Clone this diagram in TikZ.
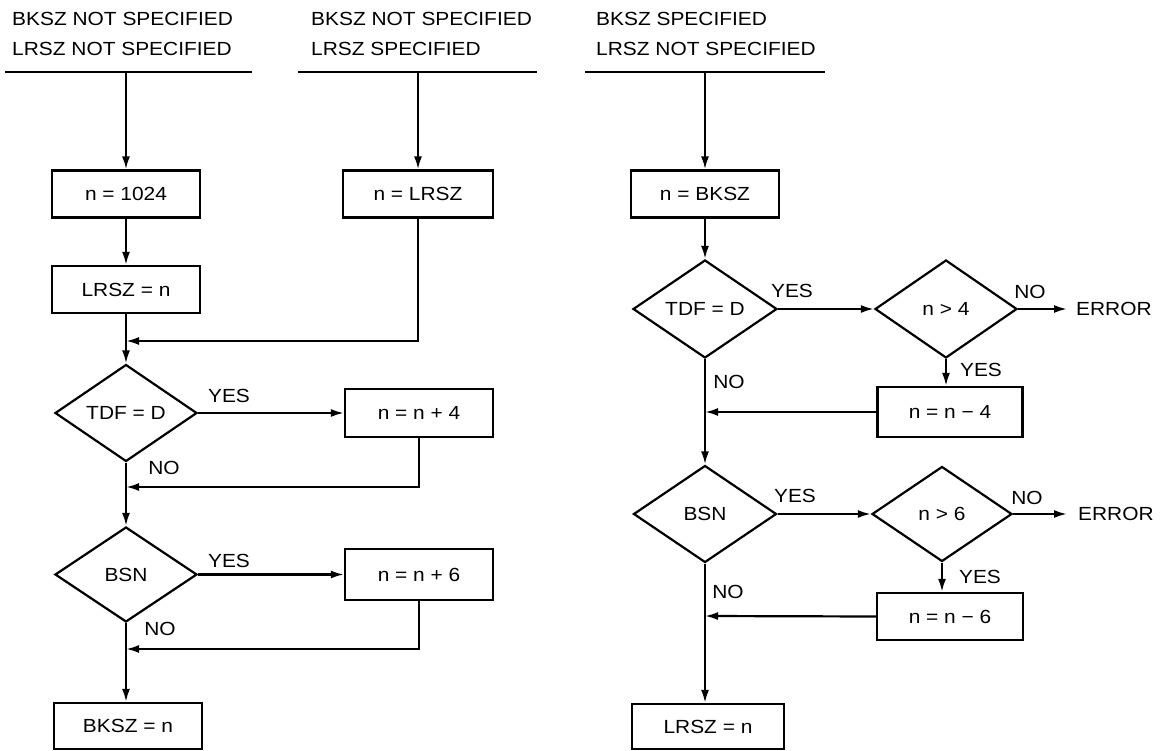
\documentclass[tikz,border=0pt]{standalone}
\usepackage{fontspec}
\setmainfont{Liberation Sans}[FakeStretch=1.1]
\usetikzlibrary{shapes.geometric,arrows.meta}
\begin{document}
\begin{tikzpicture}[x=1pt,y=-1pt,
  every node/.style={font=\fontsize{19}{22}\selectfont},
  line/.style={line width=2.2pt},
  arr/.style={line width=2.2pt,-{Latex[length=13pt,width=8pt]}},
  proc/.style={draw,line width=2.2pt,rectangle,minimum width=148pt,minimum height=47pt,inner sep=0pt},
  dec/.style={draw,line width=2.2pt,diamond,minimum width=142pt,minimum height=97pt,inner sep=0pt},
  hdr/.style={anchor=west,inner sep=0pt},
  lbl/.style={inner sep=0pt}]
\useasboundingbox (0,0) rectangle (1161,751);
% headers
\node[hdr] (h1a) at (12,19) {BKSZ NOT SPECIFIED};
\node[hdr] (h1b) at (12,49) {LRSZ NOT SPECIFIED};
\node[hdr] (h2a) at (311,19) {BKSZ NOT SPECIFIED};
\node[hdr] (h2b) at (311,49) {LRSZ SPECIFIED};
\node[hdr] (h3a) at (596,19) {BKSZ SPECIFIED};
\node[hdr] (h3b) at (596,49) {LRSZ NOT SPECIFIED};
\coordinate (r1l) at (5,72); \coordinate (r1r) at (252,72); \coordinate (r1) at (126,72);
\coordinate (r2l) at (298,72); \coordinate (r2r) at (537,72); \coordinate (r2) at (418,72);
\coordinate (r3l) at (585,72); \coordinate (r3r) at (825,72); \coordinate (r3) at (705,72);
\draw[line] (r1l) -- (r1r);
\draw[line] (r2l) -- (r2r);
\draw[line] (r3l) -- (r3r);
% left column
\node[proc] (b1024) at (126,194) {n = 1024};
\node[proc] (blrsz1) at (126,289.5) {LRSZ = n};
\node[dec] (dtdf1) at (126,413) {TDF = D};
\node[dec,minimum height=95pt] (dbsn1) at (126,574.5) {BSN};
\node[proc,minimum height=46pt] (bbksz) at (128,726) {BKSZ = n};
% middle column
\node[proc,minimum width=150pt] (blrsz2) at (418,194) {n = LRSZ};
\node[proc,minimum height=48pt] (bp4) at (419,413) {n = n + 4};
\node[proc,minimum height=51pt] (bp6) at (419,574.5) {n = n + 6};
\coordinate (m1) at (126,341);
\coordinate (m2) at (126,487);
\coordinate (m3) at (126,649);
% right column
\node[proc] (bbksz2) at (705,194) {n = BKSZ};
\node[dec,minimum width=144pt,minimum height=98pt] (dtdf2) at (705,309) {TDF = D};
\node[dec,minimum height=98pt] (dn4) at (946,309) {n > 4};
\node[proc,minimum width=145pt,minimum height=50pt] (bm4) at (950,412) {n = n − 4};
\node[dec,minimum width=143pt] (dbsn2) at (705,514) {BSN};
\node[dec,minimum width=140pt,minimum height=95pt] (dn6) at (942,514) {n > 6};
\node[proc,minimum width=146pt] (bm6) at (950,616.5) {n = n − 6};
\node[proc,minimum width=152pt,minimum height=45pt] (blrsz3) at (708,726.5) {LRSZ = n};
\node[anchor=west,inner sep=0pt] (err1) at (1076,309) {ERROR};
\node[anchor=west,inner sep=0pt] (err2) at (1078,514) {ERROR};
\coordinate (m4) at (705,412);
\coordinate (m5) at (705,616);
% labels
\node[lbl] (y1) at (229,396) {YES};
\node[lbl] (n1) at (164,468) {NO};
\node[lbl] (y2) at (229,561) {YES};
\node[lbl] (n2) at (160,629) {NO};
\node[lbl] (y3) at (792,291) {YES};
\node[lbl] (n3) at (1030,292) {NO};
\node[lbl] (y4) at (981,370) {YES};
\node[lbl] (n4) at (729,382) {NO};
\node[lbl] (y5) at (795,496) {YES};
\node[lbl] (n5) at (1027,498) {NO};
\node[lbl] (y6) at (980,577) {YES};
\node[lbl] (n6) at (728,592) {NO};
% connectors left
\draw[arr] (r1) -- (b1024.north);
\draw[arr] (b1024) -- (blrsz1);
\draw[arr] (blrsz1) -- (dtdf1);
\draw[arr] (r2) -- (blrsz2.north);
\draw[arr] (blrsz2.south) |- (m1);
\draw[arr] (dtdf1.east) -- (dtdf1.east -| bp4.west);
\draw[arr] (bp4.south) |- (m2);
\draw[arr] (dtdf1) -- (dbsn1);
\draw[arr] (dbsn1.east) -- (dbsn1.east -| bp6.west);
\draw[arr] (bp6.south) |- (m3);
\draw[arr] (dbsn1.south) -- (bbksz.north -| dbsn1.south);
% connectors right
\draw[arr] (r3) -- (bbksz2.north);
\draw[arr] (bbksz2) -- (dtdf2);
\draw[arr] (dtdf2.east) -- (dn4.west);
\draw[arr] (dn4.east) -- ([xshift=-9pt]err1.west);
\draw[arr] (dn4.south) -- (dn4.south |- bm4.north);
\draw[arr] (bm4.west) -- (m4);
\draw[arr] (dtdf2) -- (dbsn2);
\draw[arr] (dbsn2.east) -- (dn6.west);
\draw[arr] (dn6.east) -- ([xshift=-11pt]err2.west);
\draw[arr] (dn6.south) -- (dn6.south |- bm6.north);
\draw[arr] (bm6.west) -- (m5);
\draw[arr] (dbsn2.south) -- (dbsn2.south |- blrsz3.north);
\end{tikzpicture}
\end{document}
